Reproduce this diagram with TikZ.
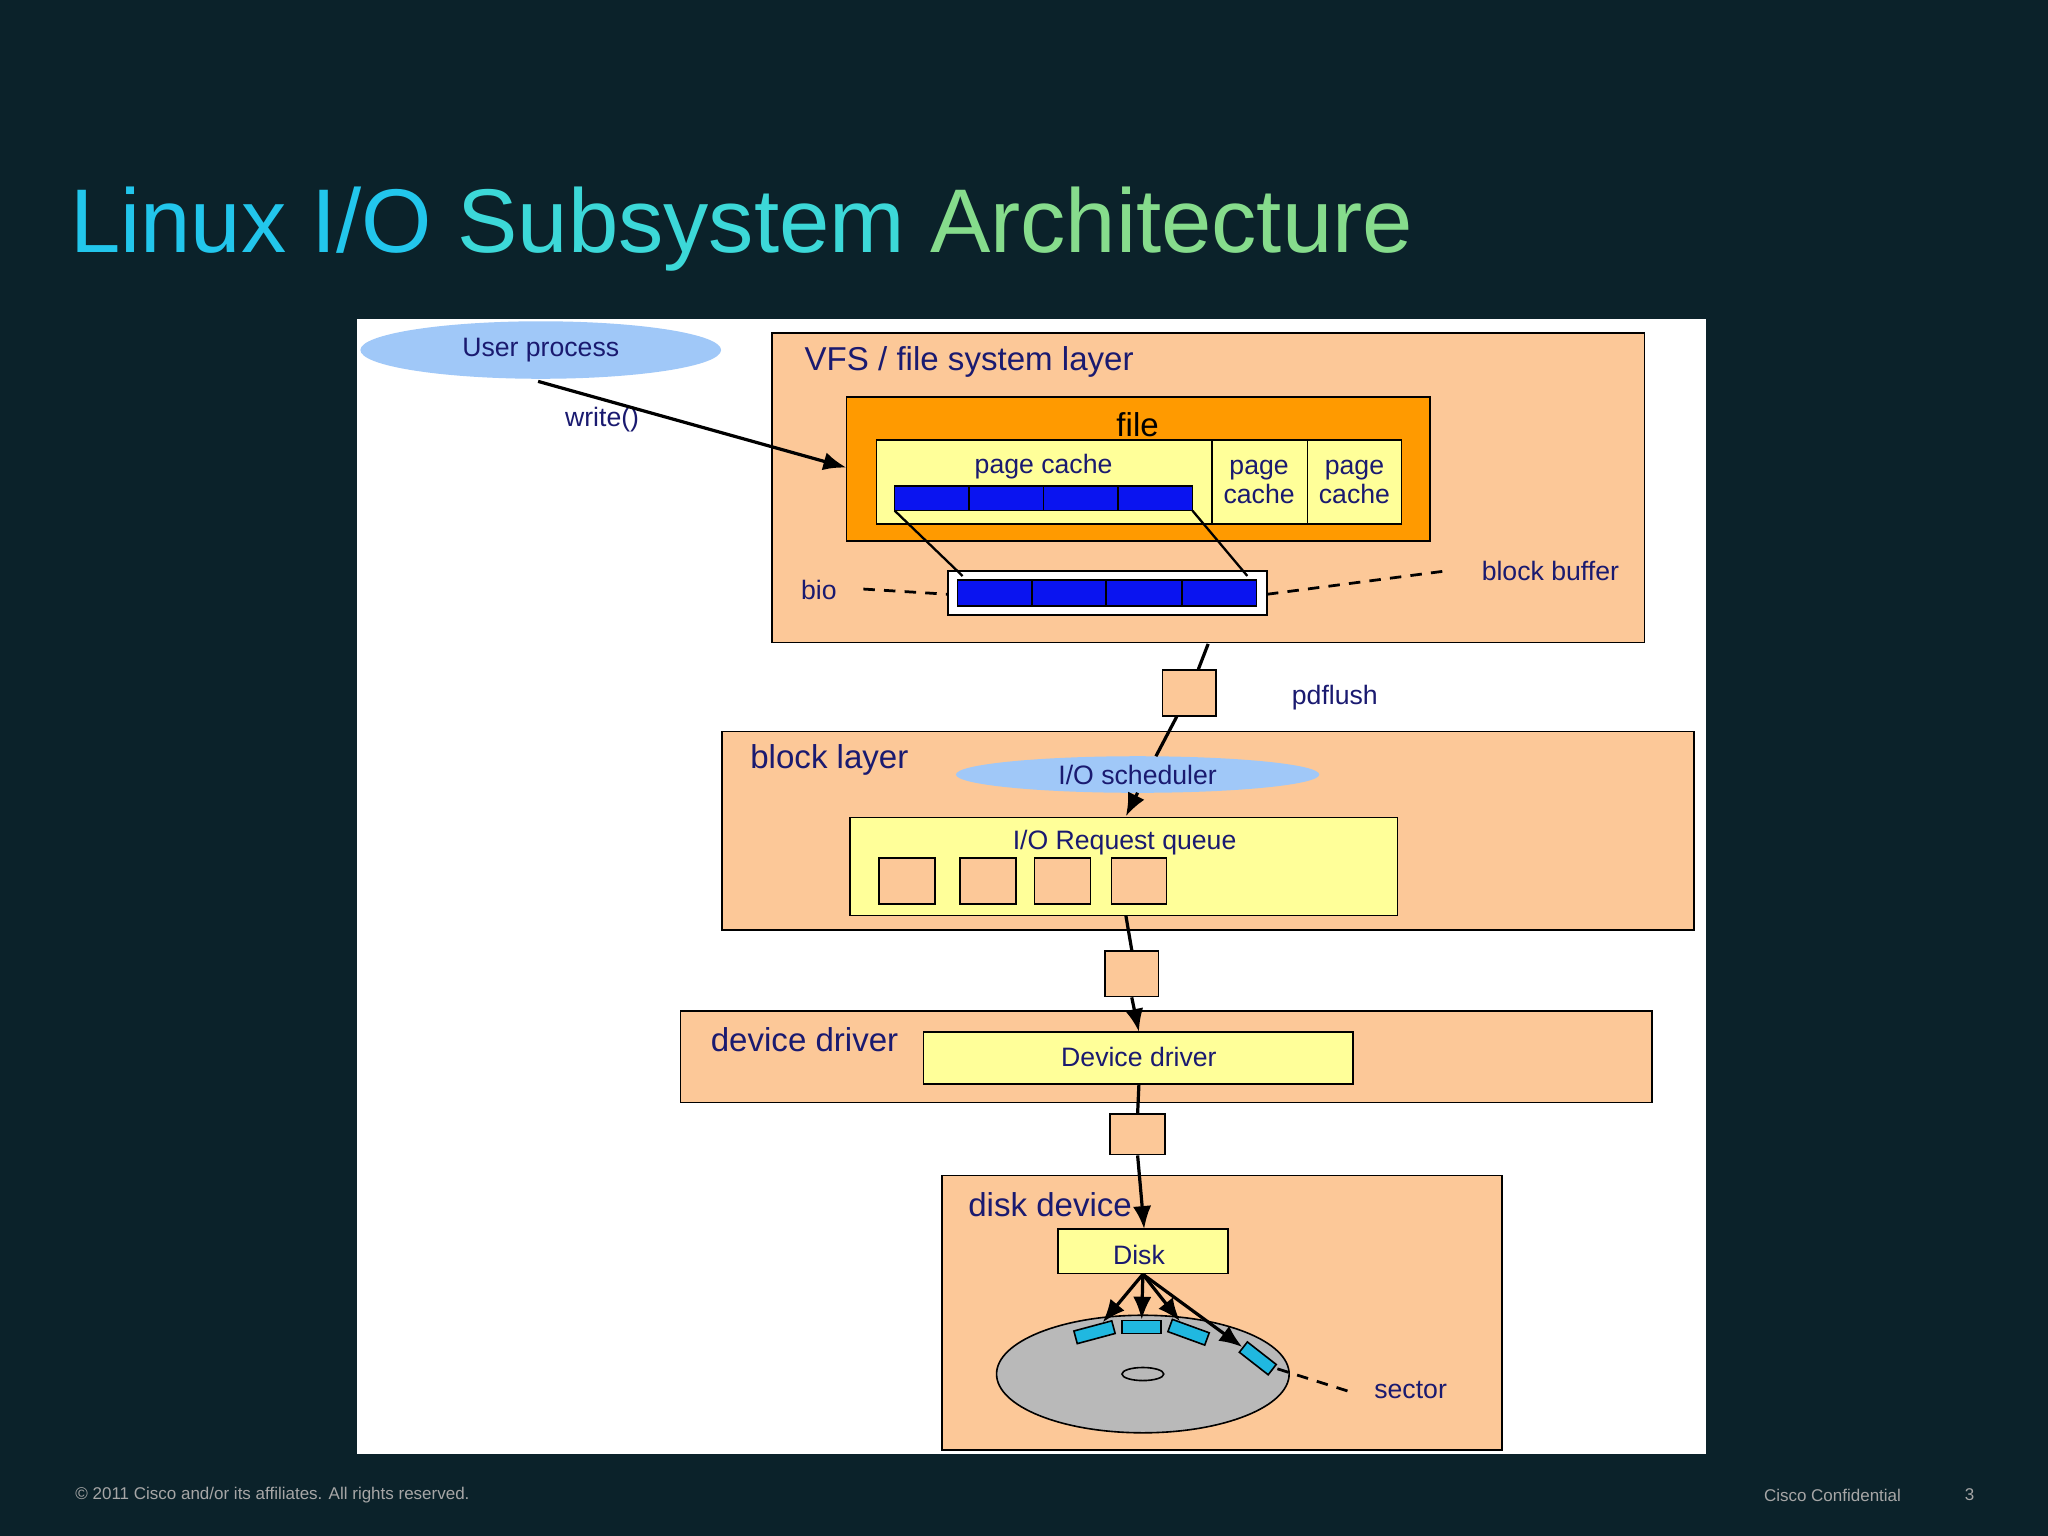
\documentclass[tikz,border=0pt]{standalone}
\usepackage{fontspec}
\setmainfont{Liberation Sans}
\usetikzlibrary{arrows.meta,shapes.geometric}
\definecolor{bg}{HTML}{0B222A}
\definecolor{peach}{HTML}{FCC898}
\definecolor{orng}{HTML}{FF9A00}
\definecolor{yel}{HTML}{FFFF99}
\definecolor{blu}{HTML}{0A14F0}
\definecolor{lblue}{HTML}{A0C8F8}
\definecolor{navy}{HTML}{1A1A70}
\definecolor{cy}{HTML}{20B8E0}
\begin{document}
\begin{tikzpicture}[x=0.01cm,y=-0.01cm,
 box/.style={draw=black,line width=0.35pt},
 lab/.style={text=navy,font=\fontsize{7.2}{7.5}\selectfont,inner sep=0},
 slab/.style={text=navy,font=\fontsize{5.8}{6.4}\selectfont,inner sep=0,align=center},
 conn/.style={line width=0.7pt},
 arr/.style={line width=0.7pt,-{Latex[length=5pt,width=4pt]}},
 dsh/.style={line width=0.6pt,dash pattern=on 2.5pt off 2pt}]
\fill[bg] (0,0) rectangle (1568,1176);
\useasboundingbox (0,0) rectangle (1568,1176);
\node[anchor=base west,inner sep=0,font=\fontsize{19.7}{22}\selectfont] (title) at (53,193)
 {\textcolor[HTML]{22C6EC}{Linux I/O} \textcolor[HTML]{3CD8D8}{Subsystem} \textcolor[HTML]{86DC8C}{Architecture}};
\fill[white] (273,244) rectangle (1306,1113);
% user process
\node[ellipse,fill=lblue,minimum width=2.76cm,minimum height=0.44cm,inner sep=0] (up) at (414,268) {};
\node[slab] at (414,268) {User process};
\node[slab] (wr) at (461,321) {write()};
% VFS
\draw[box,fill=peach] (591,255) rectangle (1259,492);
\node[lab] at (742,277) {VFS / file system layer};
\draw[box,fill=orng] (648,304) rectangle (1095,414);
\node[lab,text=black] at (871,325) {file};
\draw[box,fill=yel] (671,337) rectangle (928,401);
\node[slab] at (799,357) {page cache};
\draw[box,fill=yel] (928,337) rectangle (1001,401);
\draw[box,fill=yel] (1001,337) rectangle (1073,401);
\node[slab] at (964,369) {page\\cache};
\node[slab] at (1037,369) {page\\cache};
\draw[box,fill=blu] (685,372) rectangle (913,391);
\foreach \x in {742,799,856} \draw[line width=0.35pt] (\x,372)--(\x,391);
\draw[box,fill=white] (726,437) rectangle (970,471);
\draw[box,fill=blu] (733,444) rectangle (962,464);
\foreach \x in {790,847,905} \draw[line width=0.35pt] (\x,444)--(\x,464);
\draw[line width=0.5pt] (685,391)--(737,441) (913,391)--(955,441);
\coordinate (upb) at (412,292); \coordinate (fl) at (648,358);
\draw[arr] (upb)--(fl);
\node[slab] at (627,452) {bio};
\draw[dsh] (661,451)--(726,455);
\node[slab] at (1187,437) {block buffer};
\draw[dsh] (970,455)--(1108,437);
% block layer
\draw[box,fill=peach] (553,560) rectangle (1297,712);
\node[lab] at (635,582) {block layer};
\node[ellipse,fill=lblue,minimum width=2.78cm,minimum height=0.28cm,inner sep=0] (sch) at (871,593) {};
\node[slab] at (871,593) {I/O scheduler};
\draw[box,fill=yel] (651,626) rectangle (1070,701);
\node[slab] at (861,645) {I/O Request queue};
\foreach \a/\b in {673/716,735/778,792/835,851/893} \draw[box,fill=peach] (\a,657) rectangle (\b,692);
\draw[arr] (871,607)--(862,625);
% pdflush
\node[box,fill=peach,minimum width=0.41cm,minimum height=0.35cm,inner sep=0] (pb1) at (910.5,530.5) {};
\draw[conn] (925,493)--(pb1) (pb1)--(885,579);
\node[slab] at (1022,534) {pdflush};
% device driver
\draw[box,fill=peach] (521,774) rectangle (1265,844);
\node[lab] at (616,796) {device driver};
\draw[box,fill=yel] (707,790) rectangle (1036,830);
\node[slab] at (872,809) {Device driver};
\node[box,fill=peach,minimum width=0.41cm,minimum height=0.35cm,inner sep=0] (pb2) at (866.5,745.5) {};
\draw[conn] (862,701)--(pb2.north);
\draw[arr] (pb2.south)--(872,790);
% disk
\draw[box,fill=peach] (721,900) rectangle (1150,1110);
\node[lab] at (804,922) {disk device};
\node[box,fill=peach,minimum width=0.42cm,minimum height=0.31cm,inner sep=0] (pb3) at (871,868.5) {};
\draw[conn] (872,830)--(pb3.north);
\node[box,fill=yel,minimum width=1.3cm,minimum height=0.34cm,inner sep=0] (disk) at (875,958) {};
\node[slab] at (872,961) {Disk};
\draw[arr] (pb3.south)--(876,941);
\fill[gray!55,draw=black,line width=0.35pt] (875,1052) ellipse [x radius=112,y radius=45];
\draw[line width=0.35pt] (875,1052) ellipse [x radius=16,y radius=5];
\tikzset{sec/.style={draw=black,line width=0.35pt,fill=cy,minimum width=0.3cm,minimum height=0.1cm,inner sep=0}}
\node[sec,rotate=15] (s1) at (838,1020) {};
\node[sec] (s2) at (874,1016) {};
\node[sec,rotate=-20] (s3) at (910,1020) {};
\node[sec,rotate=-38,minimum width=0.28cm] (s4) at (963,1040) {};
\foreach \s in {s1,s2,s3,s4} \draw[arr] (disk.south)--(\s);
\draw[dsh] (978,1048)--(1035,1066);
\node[slab] at (1080,1064) {sector};
% footer
\node[anchor=west,inner sep=0,text=gray!70,font=\fontsize{3.7}{4}\selectfont] at (57,1145) {© 2011 Cisco and/or its affiliates. All rights reserved.};
\node[inner sep=0,text=gray!70,font=\fontsize{3.7}{4}\selectfont] at (1403,1145) {Cisco Confidential};
\node[inner sep=0,text=gray!70,font=\fontsize{3.7}{4}\selectfont] at (1508,1144) {3};
\end{tikzpicture}
\end{document}
